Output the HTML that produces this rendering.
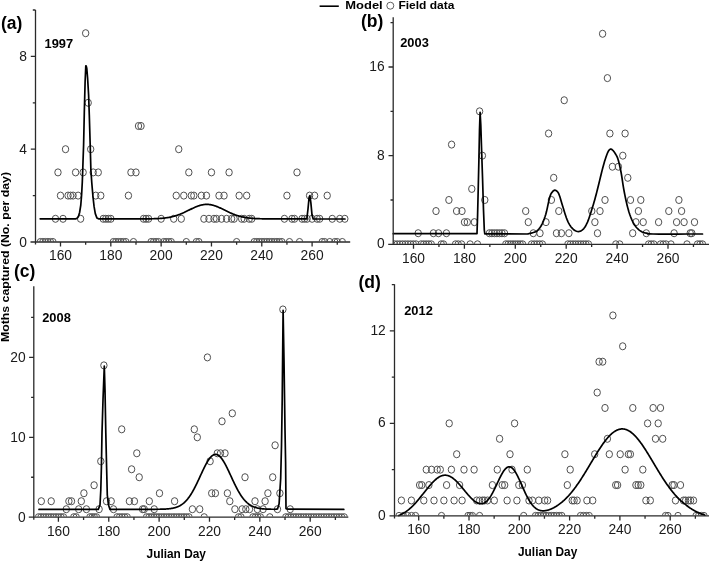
<!DOCTYPE html><html><head><meta charset="utf-8"><style>
html,body{margin:0;padding:0;background:#fff;width:709px;height:561px;overflow:hidden}
svg{display:block;will-change:transform}
text{font-family:"Liberation Sans",sans-serif}
.b{font-weight:bold}
</style></head><body>
<svg width="709" height="561" viewBox="0 0 709 561">
<rect width="709" height="561" fill="#fff"/>
<defs>
<clipPath id="cla"><rect x="35.5" y="0" width="319.7" height="241.4"/></clipPath>
<clipPath id="clb"><rect x="393.2" y="0" width="321.3" height="243.7"/></clipPath>
<clipPath id="clc"><rect x="33.8" y="0" width="319.5" height="516.6"/></clipPath>
<clipPath id="cld"><rect x="394.5" y="0" width="320" height="515.3"/></clipPath>
</defs>
<g clip-path="url(#cla)" fill="none" stroke="#505050" stroke-width="1">
<ellipse cx="40.37" cy="242" rx="3.2" ry="3.55"/>
<ellipse cx="42.89" cy="242" rx="3.2" ry="3.55"/>
<ellipse cx="45.4" cy="242" rx="3.2" ry="3.55"/>
<ellipse cx="47.92" cy="242" rx="3.2" ry="3.55"/>
<ellipse cx="50.44" cy="242" rx="3.2" ry="3.55"/>
<ellipse cx="52.95" cy="242" rx="3.2" ry="3.55"/>
<ellipse cx="55.47" cy="218.8" rx="3.2" ry="3.55"/>
<ellipse cx="57.98" cy="172.4" rx="3.2" ry="3.55"/>
<ellipse cx="60.5" cy="195.6" rx="3.2" ry="3.55"/>
<ellipse cx="63.02" cy="218.8" rx="3.2" ry="3.55"/>
<ellipse cx="65.53" cy="149.2" rx="3.2" ry="3.55"/>
<ellipse cx="68.05" cy="195.6" rx="3.2" ry="3.55"/>
<ellipse cx="70.56" cy="195.6" rx="3.2" ry="3.55"/>
<ellipse cx="73.08" cy="195.6" rx="3.2" ry="3.55"/>
<ellipse cx="75.6" cy="172.4" rx="3.2" ry="3.55"/>
<ellipse cx="78.11" cy="195.6" rx="3.2" ry="3.55"/>
<ellipse cx="80.63" cy="218.8" rx="3.2" ry="3.55"/>
<ellipse cx="83.14" cy="172.4" rx="3.2" ry="3.55"/>
<ellipse cx="85.66" cy="33.2" rx="3.2" ry="3.55"/>
<ellipse cx="88.18" cy="102.8" rx="3.2" ry="3.55"/>
<ellipse cx="90.69" cy="149.2" rx="3.2" ry="3.55"/>
<ellipse cx="93.21" cy="172.4" rx="3.2" ry="3.55"/>
<ellipse cx="95.72" cy="195.6" rx="3.2" ry="3.55"/>
<ellipse cx="98.24" cy="172.4" rx="3.2" ry="3.55"/>
<ellipse cx="100.76" cy="195.6" rx="3.2" ry="3.55"/>
<ellipse cx="103.27" cy="218.8" rx="3.2" ry="3.55"/>
<ellipse cx="105.79" cy="218.8" rx="3.2" ry="3.55"/>
<ellipse cx="108.3" cy="218.8" rx="3.2" ry="3.55"/>
<ellipse cx="110.82" cy="218.8" rx="3.2" ry="3.55"/>
<ellipse cx="113.34" cy="242" rx="3.2" ry="3.55"/>
<ellipse cx="115.85" cy="242" rx="3.2" ry="3.55"/>
<ellipse cx="118.37" cy="242" rx="3.2" ry="3.55"/>
<ellipse cx="120.88" cy="242" rx="3.2" ry="3.55"/>
<ellipse cx="123.4" cy="242" rx="3.2" ry="3.55"/>
<ellipse cx="125.92" cy="242" rx="3.2" ry="3.55"/>
<ellipse cx="128.43" cy="195.6" rx="3.2" ry="3.55"/>
<ellipse cx="130.95" cy="172.4" rx="3.2" ry="3.55"/>
<ellipse cx="133.46" cy="242" rx="3.2" ry="3.55"/>
<ellipse cx="135.98" cy="172.4" rx="3.2" ry="3.55"/>
<ellipse cx="138.5" cy="126" rx="3.2" ry="3.55"/>
<ellipse cx="141.01" cy="126" rx="3.2" ry="3.55"/>
<ellipse cx="143.53" cy="218.8" rx="3.2" ry="3.55"/>
<ellipse cx="146.04" cy="218.8" rx="3.2" ry="3.55"/>
<ellipse cx="148.56" cy="218.8" rx="3.2" ry="3.55"/>
<ellipse cx="151.08" cy="242" rx="3.2" ry="3.55"/>
<ellipse cx="153.59" cy="242" rx="3.2" ry="3.55"/>
<ellipse cx="156.11" cy="242" rx="3.2" ry="3.55"/>
<ellipse cx="158.62" cy="242" rx="3.2" ry="3.55"/>
<ellipse cx="161.14" cy="218.8" rx="3.2" ry="3.55"/>
<ellipse cx="163.66" cy="242" rx="3.2" ry="3.55"/>
<ellipse cx="166.17" cy="242" rx="3.2" ry="3.55"/>
<ellipse cx="168.69" cy="242" rx="3.2" ry="3.55"/>
<ellipse cx="171.2" cy="242" rx="3.2" ry="3.55"/>
<ellipse cx="173.72" cy="218.8" rx="3.2" ry="3.55"/>
<ellipse cx="176.24" cy="195.6" rx="3.2" ry="3.55"/>
<ellipse cx="178.75" cy="149.2" rx="3.2" ry="3.55"/>
<ellipse cx="181.27" cy="218.8" rx="3.2" ry="3.55"/>
<ellipse cx="183.78" cy="195.6" rx="3.2" ry="3.55"/>
<ellipse cx="186.3" cy="242" rx="3.2" ry="3.55"/>
<ellipse cx="188.82" cy="172.4" rx="3.2" ry="3.55"/>
<ellipse cx="191.33" cy="195.6" rx="3.2" ry="3.55"/>
<ellipse cx="193.85" cy="195.6" rx="3.2" ry="3.55"/>
<ellipse cx="196.36" cy="242" rx="3.2" ry="3.55"/>
<ellipse cx="198.88" cy="242" rx="3.2" ry="3.55"/>
<ellipse cx="201.4" cy="195.6" rx="3.2" ry="3.55"/>
<ellipse cx="203.91" cy="218.8" rx="3.2" ry="3.55"/>
<ellipse cx="206.43" cy="195.6" rx="3.2" ry="3.55"/>
<ellipse cx="208.94" cy="218.8" rx="3.2" ry="3.55"/>
<ellipse cx="211.46" cy="172.4" rx="3.2" ry="3.55"/>
<ellipse cx="213.98" cy="218.8" rx="3.2" ry="3.55"/>
<ellipse cx="216.49" cy="218.8" rx="3.2" ry="3.55"/>
<ellipse cx="219.01" cy="195.6" rx="3.2" ry="3.55"/>
<ellipse cx="221.52" cy="218.8" rx="3.2" ry="3.55"/>
<ellipse cx="224.04" cy="195.6" rx="3.2" ry="3.55"/>
<ellipse cx="226.56" cy="218.8" rx="3.2" ry="3.55"/>
<ellipse cx="229.07" cy="172.4" rx="3.2" ry="3.55"/>
<ellipse cx="231.59" cy="218.8" rx="3.2" ry="3.55"/>
<ellipse cx="234.1" cy="218.8" rx="3.2" ry="3.55"/>
<ellipse cx="236.62" cy="242" rx="3.2" ry="3.55"/>
<ellipse cx="239.14" cy="195.6" rx="3.2" ry="3.55"/>
<ellipse cx="241.65" cy="218.8" rx="3.2" ry="3.55"/>
<ellipse cx="244.17" cy="218.8" rx="3.2" ry="3.55"/>
<ellipse cx="246.68" cy="195.6" rx="3.2" ry="3.55"/>
<ellipse cx="249.2" cy="218.8" rx="3.2" ry="3.55"/>
<ellipse cx="251.72" cy="218.8" rx="3.2" ry="3.55"/>
<ellipse cx="254.23" cy="242" rx="3.2" ry="3.55"/>
<ellipse cx="256.75" cy="242" rx="3.2" ry="3.55"/>
<ellipse cx="259.26" cy="242" rx="3.2" ry="3.55"/>
<ellipse cx="261.78" cy="242" rx="3.2" ry="3.55"/>
<ellipse cx="264.3" cy="242" rx="3.2" ry="3.55"/>
<ellipse cx="266.81" cy="242" rx="3.2" ry="3.55"/>
<ellipse cx="269.33" cy="242" rx="3.2" ry="3.55"/>
<ellipse cx="271.84" cy="242" rx="3.2" ry="3.55"/>
<ellipse cx="274.36" cy="242" rx="3.2" ry="3.55"/>
<ellipse cx="276.88" cy="242" rx="3.2" ry="3.55"/>
<ellipse cx="279.39" cy="242" rx="3.2" ry="3.55"/>
<ellipse cx="281.91" cy="242" rx="3.2" ry="3.55"/>
<ellipse cx="284.42" cy="218.8" rx="3.2" ry="3.55"/>
<ellipse cx="286.94" cy="195.6" rx="3.2" ry="3.55"/>
<ellipse cx="289.46" cy="242" rx="3.2" ry="3.55"/>
<ellipse cx="291.97" cy="218.8" rx="3.2" ry="3.55"/>
<ellipse cx="294.49" cy="218.8" rx="3.2" ry="3.55"/>
<ellipse cx="297" cy="172.4" rx="3.2" ry="3.55"/>
<ellipse cx="299.52" cy="242" rx="3.2" ry="3.55"/>
<ellipse cx="302.04" cy="218.8" rx="3.2" ry="3.55"/>
<ellipse cx="304.55" cy="218.8" rx="3.2" ry="3.55"/>
<ellipse cx="307.07" cy="218.8" rx="3.2" ry="3.55"/>
<ellipse cx="309.58" cy="195.6" rx="3.2" ry="3.55"/>
<ellipse cx="312.1" cy="218.8" rx="3.2" ry="3.55"/>
<ellipse cx="314.62" cy="195.6" rx="3.2" ry="3.55"/>
<ellipse cx="317.13" cy="218.8" rx="3.2" ry="3.55"/>
<ellipse cx="319.65" cy="218.8" rx="3.2" ry="3.55"/>
<ellipse cx="322.16" cy="242" rx="3.2" ry="3.55"/>
<ellipse cx="324.68" cy="242" rx="3.2" ry="3.55"/>
<ellipse cx="327.2" cy="195.6" rx="3.2" ry="3.55"/>
<ellipse cx="329.71" cy="242" rx="3.2" ry="3.55"/>
<ellipse cx="332.23" cy="218.8" rx="3.2" ry="3.55"/>
<ellipse cx="334.74" cy="242" rx="3.2" ry="3.55"/>
<ellipse cx="337.26" cy="242" rx="3.2" ry="3.55"/>
<ellipse cx="339.78" cy="218.8" rx="3.2" ry="3.55"/>
<ellipse cx="342.29" cy="242" rx="3.2" ry="3.55"/>
<ellipse cx="344.81" cy="218.8" rx="3.2" ry="3.55"/>
</g>
<g clip-path="url(#clb)" fill="none" stroke="#505050" stroke-width="1">
<ellipse cx="394.5" cy="244.3" rx="3.2" ry="3.55"/>
<ellipse cx="397.19" cy="244.3" rx="3.2" ry="3.55"/>
<ellipse cx="399.88" cy="244.3" rx="3.2" ry="3.55"/>
<ellipse cx="402.56" cy="244.3" rx="3.2" ry="3.55"/>
<ellipse cx="405.25" cy="244.3" rx="3.2" ry="3.55"/>
<ellipse cx="407.94" cy="244.3" rx="3.2" ry="3.55"/>
<ellipse cx="410.62" cy="244.3" rx="3.2" ry="3.55"/>
<ellipse cx="413.31" cy="244.3" rx="3.2" ry="3.55"/>
<ellipse cx="416" cy="244.3" rx="3.2" ry="3.55"/>
<ellipse cx="421.1" cy="244.3" rx="3.2" ry="3.55"/>
<ellipse cx="423.65" cy="244.3" rx="3.2" ry="3.55"/>
<ellipse cx="426.2" cy="244.3" rx="3.2" ry="3.55"/>
<ellipse cx="428.75" cy="244.3" rx="3.2" ry="3.55"/>
<ellipse cx="431.3" cy="244.3" rx="3.2" ry="3.55"/>
<ellipse cx="441.2" cy="244.3" rx="3.2" ry="3.55"/>
<ellipse cx="443.5" cy="244.3" rx="3.2" ry="3.55"/>
<ellipse cx="455.5" cy="244.3" rx="3.2" ry="3.55"/>
<ellipse cx="458.2" cy="244.3" rx="3.2" ry="3.55"/>
<ellipse cx="461.6" cy="244.3" rx="3.2" ry="3.55"/>
<ellipse cx="470.1" cy="244.3" rx="3.2" ry="3.55"/>
<ellipse cx="477.5" cy="244.3" rx="3.2" ry="3.55"/>
<ellipse cx="505.8" cy="244.3" rx="3.2" ry="3.55"/>
<ellipse cx="508.2" cy="244.3" rx="3.2" ry="3.55"/>
<ellipse cx="510.6" cy="244.3" rx="3.2" ry="3.55"/>
<ellipse cx="513" cy="244.3" rx="3.2" ry="3.55"/>
<ellipse cx="515.4" cy="244.3" rx="3.2" ry="3.55"/>
<ellipse cx="517.8" cy="244.3" rx="3.2" ry="3.55"/>
<ellipse cx="520.2" cy="244.3" rx="3.2" ry="3.55"/>
<ellipse cx="522.6" cy="244.3" rx="3.2" ry="3.55"/>
<ellipse cx="531.5" cy="244.3" rx="3.2" ry="3.55"/>
<ellipse cx="534.23" cy="244.3" rx="3.2" ry="3.55"/>
<ellipse cx="536.95" cy="244.3" rx="3.2" ry="3.55"/>
<ellipse cx="539.67" cy="244.3" rx="3.2" ry="3.55"/>
<ellipse cx="542.4" cy="244.3" rx="3.2" ry="3.55"/>
<ellipse cx="567.9" cy="244.3" rx="3.2" ry="3.55"/>
<ellipse cx="570.48" cy="244.3" rx="3.2" ry="3.55"/>
<ellipse cx="573.05" cy="244.3" rx="3.2" ry="3.55"/>
<ellipse cx="575.62" cy="244.3" rx="3.2" ry="3.55"/>
<ellipse cx="578.2" cy="244.3" rx="3.2" ry="3.55"/>
<ellipse cx="580.77" cy="244.3" rx="3.2" ry="3.55"/>
<ellipse cx="583.35" cy="244.3" rx="3.2" ry="3.55"/>
<ellipse cx="585.92" cy="244.3" rx="3.2" ry="3.55"/>
<ellipse cx="588.5" cy="244.3" rx="3.2" ry="3.55"/>
<ellipse cx="615.8" cy="244.3" rx="3.2" ry="3.55"/>
<ellipse cx="619.7" cy="244.3" rx="3.2" ry="3.55"/>
<ellipse cx="648.6" cy="244.3" rx="3.2" ry="3.55"/>
<ellipse cx="651.2" cy="244.3" rx="3.2" ry="3.55"/>
<ellipse cx="653.8" cy="244.3" rx="3.2" ry="3.55"/>
<ellipse cx="660.5" cy="244.3" rx="3.2" ry="3.55"/>
<ellipse cx="663.25" cy="244.3" rx="3.2" ry="3.55"/>
<ellipse cx="666" cy="244.3" rx="3.2" ry="3.55"/>
<ellipse cx="671" cy="244.3" rx="3.2" ry="3.55"/>
<ellipse cx="687" cy="244.3" rx="3.2" ry="3.55"/>
<ellipse cx="697.5" cy="244.3" rx="3.2" ry="3.55"/>
<ellipse cx="700" cy="244.3" rx="3.2" ry="3.55"/>
<ellipse cx="702.5" cy="244.3" rx="3.2" ry="3.55"/>
<ellipse cx="418.2" cy="233.22" rx="3.2" ry="3.55"/>
<ellipse cx="433.4" cy="233.22" rx="3.2" ry="3.55"/>
<ellipse cx="438.5" cy="233.22" rx="3.2" ry="3.55"/>
<ellipse cx="446.4" cy="233.22" rx="3.2" ry="3.55"/>
<ellipse cx="489.4" cy="233.22" rx="3.2" ry="3.55"/>
<ellipse cx="491.92" cy="233.22" rx="3.2" ry="3.55"/>
<ellipse cx="494.43" cy="233.22" rx="3.2" ry="3.55"/>
<ellipse cx="496.95" cy="233.22" rx="3.2" ry="3.55"/>
<ellipse cx="499.47" cy="233.22" rx="3.2" ry="3.55"/>
<ellipse cx="501.98" cy="233.22" rx="3.2" ry="3.55"/>
<ellipse cx="504.5" cy="233.22" rx="3.2" ry="3.55"/>
<ellipse cx="533.3" cy="233.22" rx="3.2" ry="3.55"/>
<ellipse cx="540" cy="233.22" rx="3.2" ry="3.55"/>
<ellipse cx="556.5" cy="233.22" rx="3.2" ry="3.55"/>
<ellipse cx="561.4" cy="233.22" rx="3.2" ry="3.55"/>
<ellipse cx="568.9" cy="233.22" rx="3.2" ry="3.55"/>
<ellipse cx="597.5" cy="233.22" rx="3.2" ry="3.55"/>
<ellipse cx="632.7" cy="233.22" rx="3.2" ry="3.55"/>
<ellipse cx="646.3" cy="233.22" rx="3.2" ry="3.55"/>
<ellipse cx="674.1" cy="233.22" rx="3.2" ry="3.55"/>
<ellipse cx="690.2" cy="233.22" rx="3.2" ry="3.55"/>
<ellipse cx="691.8" cy="233.22" rx="3.2" ry="3.55"/>
<ellipse cx="464.5" cy="222.14" rx="3.2" ry="3.55"/>
<ellipse cx="467.3" cy="222.14" rx="3.2" ry="3.55"/>
<ellipse cx="474.4" cy="222.14" rx="3.2" ry="3.55"/>
<ellipse cx="528.3" cy="222.14" rx="3.2" ry="3.55"/>
<ellipse cx="546" cy="222.14" rx="3.2" ry="3.55"/>
<ellipse cx="594.9" cy="222.14" rx="3.2" ry="3.55"/>
<ellipse cx="635.9" cy="222.14" rx="3.2" ry="3.55"/>
<ellipse cx="643.2" cy="222.14" rx="3.2" ry="3.55"/>
<ellipse cx="658.6" cy="222.14" rx="3.2" ry="3.55"/>
<ellipse cx="676.6" cy="222.14" rx="3.2" ry="3.55"/>
<ellipse cx="684.1" cy="222.14" rx="3.2" ry="3.55"/>
<ellipse cx="694.5" cy="222.14" rx="3.2" ry="3.55"/>
<ellipse cx="436" cy="211.06" rx="3.2" ry="3.55"/>
<ellipse cx="456.6" cy="211.06" rx="3.2" ry="3.55"/>
<ellipse cx="462" cy="211.06" rx="3.2" ry="3.55"/>
<ellipse cx="525.7" cy="211.06" rx="3.2" ry="3.55"/>
<ellipse cx="558.8" cy="211.06" rx="3.2" ry="3.55"/>
<ellipse cx="591.8" cy="211.06" rx="3.2" ry="3.55"/>
<ellipse cx="600" cy="211.06" rx="3.2" ry="3.55"/>
<ellipse cx="638.4" cy="211.06" rx="3.2" ry="3.55"/>
<ellipse cx="668.8" cy="211.06" rx="3.2" ry="3.55"/>
<ellipse cx="681.6" cy="211.06" rx="3.2" ry="3.55"/>
<ellipse cx="448.9" cy="199.98" rx="3.2" ry="3.55"/>
<ellipse cx="484.8" cy="199.98" rx="3.2" ry="3.55"/>
<ellipse cx="551.4" cy="199.98" rx="3.2" ry="3.55"/>
<ellipse cx="605" cy="199.98" rx="3.2" ry="3.55"/>
<ellipse cx="630.5" cy="199.98" rx="3.2" ry="3.55"/>
<ellipse cx="640.8" cy="199.98" rx="3.2" ry="3.55"/>
<ellipse cx="678.9" cy="199.98" rx="3.2" ry="3.55"/>
<ellipse cx="471.8" cy="188.9" rx="3.2" ry="3.55"/>
<ellipse cx="553.7" cy="177.82" rx="3.2" ry="3.55"/>
<ellipse cx="627.8" cy="177.82" rx="3.2" ry="3.55"/>
<ellipse cx="612.4" cy="166.74" rx="3.2" ry="3.55"/>
<ellipse cx="618.4" cy="166.74" rx="3.2" ry="3.55"/>
<ellipse cx="482.4" cy="155.66" rx="3.2" ry="3.55"/>
<ellipse cx="622.8" cy="155.66" rx="3.2" ry="3.55"/>
<ellipse cx="451.6" cy="144.58" rx="3.2" ry="3.55"/>
<ellipse cx="548.6" cy="133.5" rx="3.2" ry="3.55"/>
<ellipse cx="609.9" cy="133.5" rx="3.2" ry="3.55"/>
<ellipse cx="625.1" cy="133.5" rx="3.2" ry="3.55"/>
<ellipse cx="479.6" cy="111.34" rx="3.2" ry="3.55"/>
<ellipse cx="564.2" cy="100.26" rx="3.2" ry="3.55"/>
<ellipse cx="607.4" cy="78.1" rx="3.2" ry="3.55"/>
<ellipse cx="602.6" cy="33.78" rx="3.2" ry="3.55"/>
</g>
<g clip-path="url(#clc)" fill="none" stroke="#505050" stroke-width="1">
<ellipse cx="38.5" cy="517.2" rx="3.2" ry="3.55"/>
<ellipse cx="41" cy="517.2" rx="3.2" ry="3.55"/>
<ellipse cx="43.5" cy="517.2" rx="3.2" ry="3.55"/>
<ellipse cx="46" cy="517.2" rx="3.2" ry="3.55"/>
<ellipse cx="48.5" cy="517.2" rx="3.2" ry="3.55"/>
<ellipse cx="51" cy="517.2" rx="3.2" ry="3.55"/>
<ellipse cx="53.5" cy="517.2" rx="3.2" ry="3.55"/>
<ellipse cx="56" cy="517.2" rx="3.2" ry="3.55"/>
<ellipse cx="58.5" cy="517.2" rx="3.2" ry="3.55"/>
<ellipse cx="61" cy="517.2" rx="3.2" ry="3.55"/>
<ellipse cx="63.5" cy="517.2" rx="3.2" ry="3.55"/>
<ellipse cx="73.8" cy="517.2" rx="3.2" ry="3.55"/>
<ellipse cx="76.2" cy="517.2" rx="3.2" ry="3.55"/>
<ellipse cx="89.9" cy="517.2" rx="3.2" ry="3.55"/>
<ellipse cx="92.1" cy="517.2" rx="3.2" ry="3.55"/>
<ellipse cx="94.3" cy="517.2" rx="3.2" ry="3.55"/>
<ellipse cx="96.5" cy="517.2" rx="3.2" ry="3.55"/>
<ellipse cx="117" cy="517.2" rx="3.2" ry="3.55"/>
<ellipse cx="119.55" cy="517.2" rx="3.2" ry="3.55"/>
<ellipse cx="122.1" cy="517.2" rx="3.2" ry="3.55"/>
<ellipse cx="124.65" cy="517.2" rx="3.2" ry="3.55"/>
<ellipse cx="127.2" cy="517.2" rx="3.2" ry="3.55"/>
<ellipse cx="146.5" cy="517.2" rx="3.2" ry="3.55"/>
<ellipse cx="149" cy="517.2" rx="3.2" ry="3.55"/>
<ellipse cx="151.5" cy="517.2" rx="3.2" ry="3.55"/>
<ellipse cx="154" cy="517.2" rx="3.2" ry="3.55"/>
<ellipse cx="156.5" cy="517.2" rx="3.2" ry="3.55"/>
<ellipse cx="159" cy="517.2" rx="3.2" ry="3.55"/>
<ellipse cx="161.5" cy="517.2" rx="3.2" ry="3.55"/>
<ellipse cx="164" cy="517.2" rx="3.2" ry="3.55"/>
<ellipse cx="166.5" cy="517.2" rx="3.2" ry="3.55"/>
<ellipse cx="169" cy="517.2" rx="3.2" ry="3.55"/>
<ellipse cx="171.5" cy="517.2" rx="3.2" ry="3.55"/>
<ellipse cx="174" cy="517.2" rx="3.2" ry="3.55"/>
<ellipse cx="176.5" cy="517.2" rx="3.2" ry="3.55"/>
<ellipse cx="179" cy="517.2" rx="3.2" ry="3.55"/>
<ellipse cx="181.5" cy="517.2" rx="3.2" ry="3.55"/>
<ellipse cx="184" cy="517.2" rx="3.2" ry="3.55"/>
<ellipse cx="186.5" cy="517.2" rx="3.2" ry="3.55"/>
<ellipse cx="189" cy="517.2" rx="3.2" ry="3.55"/>
<ellipse cx="204.2" cy="517.2" rx="3.2" ry="3.55"/>
<ellipse cx="238.5" cy="517.2" rx="3.2" ry="3.55"/>
<ellipse cx="241" cy="517.2" rx="3.2" ry="3.55"/>
<ellipse cx="252.9" cy="517.2" rx="3.2" ry="3.55"/>
<ellipse cx="255.4" cy="517.2" rx="3.2" ry="3.55"/>
<ellipse cx="257.9" cy="517.2" rx="3.2" ry="3.55"/>
<ellipse cx="260.4" cy="517.2" rx="3.2" ry="3.55"/>
<ellipse cx="269.8" cy="517.2" rx="3.2" ry="3.55"/>
<ellipse cx="285.8" cy="517.2" rx="3.2" ry="3.55"/>
<ellipse cx="288.34" cy="517.2" rx="3.2" ry="3.55"/>
<ellipse cx="290.88" cy="517.2" rx="3.2" ry="3.55"/>
<ellipse cx="293.42" cy="517.2" rx="3.2" ry="3.55"/>
<ellipse cx="295.96" cy="517.2" rx="3.2" ry="3.55"/>
<ellipse cx="298.5" cy="517.2" rx="3.2" ry="3.55"/>
<ellipse cx="301.03" cy="517.2" rx="3.2" ry="3.55"/>
<ellipse cx="303.57" cy="517.2" rx="3.2" ry="3.55"/>
<ellipse cx="306.11" cy="517.2" rx="3.2" ry="3.55"/>
<ellipse cx="308.65" cy="517.2" rx="3.2" ry="3.55"/>
<ellipse cx="311.19" cy="517.2" rx="3.2" ry="3.55"/>
<ellipse cx="313.73" cy="517.2" rx="3.2" ry="3.55"/>
<ellipse cx="316.27" cy="517.2" rx="3.2" ry="3.55"/>
<ellipse cx="318.81" cy="517.2" rx="3.2" ry="3.55"/>
<ellipse cx="321.35" cy="517.2" rx="3.2" ry="3.55"/>
<ellipse cx="323.89" cy="517.2" rx="3.2" ry="3.55"/>
<ellipse cx="326.43" cy="517.2" rx="3.2" ry="3.55"/>
<ellipse cx="328.97" cy="517.2" rx="3.2" ry="3.55"/>
<ellipse cx="331.5" cy="517.2" rx="3.2" ry="3.55"/>
<ellipse cx="334.04" cy="517.2" rx="3.2" ry="3.55"/>
<ellipse cx="336.58" cy="517.2" rx="3.2" ry="3.55"/>
<ellipse cx="339.12" cy="517.2" rx="3.2" ry="3.55"/>
<ellipse cx="341.66" cy="517.2" rx="3.2" ry="3.55"/>
<ellipse cx="344.2" cy="517.2" rx="3.2" ry="3.55"/>
<ellipse cx="66.3" cy="509.21" rx="3.2" ry="3.55"/>
<ellipse cx="78.7" cy="509.21" rx="3.2" ry="3.55"/>
<ellipse cx="86.4" cy="509.21" rx="3.2" ry="3.55"/>
<ellipse cx="99.1" cy="509.21" rx="3.2" ry="3.55"/>
<ellipse cx="113.5" cy="509.21" rx="3.2" ry="3.55"/>
<ellipse cx="142.6" cy="509.21" rx="3.2" ry="3.55"/>
<ellipse cx="144.2" cy="509.21" rx="3.2" ry="3.55"/>
<ellipse cx="154.2" cy="509.21" rx="3.2" ry="3.55"/>
<ellipse cx="192.4" cy="509.21" rx="3.2" ry="3.55"/>
<ellipse cx="199.7" cy="509.21" rx="3.2" ry="3.55"/>
<ellipse cx="234.9" cy="509.21" rx="3.2" ry="3.55"/>
<ellipse cx="242.1" cy="509.21" rx="3.2" ry="3.55"/>
<ellipse cx="245.8" cy="509.21" rx="3.2" ry="3.55"/>
<ellipse cx="249.5" cy="509.21" rx="3.2" ry="3.55"/>
<ellipse cx="257.4" cy="509.21" rx="3.2" ry="3.55"/>
<ellipse cx="263.1" cy="509.21" rx="3.2" ry="3.55"/>
<ellipse cx="277.5" cy="509.21" rx="3.2" ry="3.55"/>
<ellipse cx="290.2" cy="509.21" rx="3.2" ry="3.55"/>
<ellipse cx="41.3" cy="501.22" rx="3.2" ry="3.55"/>
<ellipse cx="51.2" cy="501.22" rx="3.2" ry="3.55"/>
<ellipse cx="68.9" cy="501.22" rx="3.2" ry="3.55"/>
<ellipse cx="71.5" cy="501.22" rx="3.2" ry="3.55"/>
<ellipse cx="81.3" cy="501.22" rx="3.2" ry="3.55"/>
<ellipse cx="106.5" cy="501.22" rx="3.2" ry="3.55"/>
<ellipse cx="111.2" cy="501.22" rx="3.2" ry="3.55"/>
<ellipse cx="129.4" cy="501.22" rx="3.2" ry="3.55"/>
<ellipse cx="134.4" cy="501.22" rx="3.2" ry="3.55"/>
<ellipse cx="149.3" cy="501.22" rx="3.2" ry="3.55"/>
<ellipse cx="174.6" cy="501.22" rx="3.2" ry="3.55"/>
<ellipse cx="229.8" cy="501.22" rx="3.2" ry="3.55"/>
<ellipse cx="255" cy="501.22" rx="3.2" ry="3.55"/>
<ellipse cx="265.1" cy="501.22" rx="3.2" ry="3.55"/>
<ellipse cx="83.9" cy="493.23" rx="3.2" ry="3.55"/>
<ellipse cx="159.5" cy="493.23" rx="3.2" ry="3.55"/>
<ellipse cx="211.7" cy="493.23" rx="3.2" ry="3.55"/>
<ellipse cx="215.4" cy="493.23" rx="3.2" ry="3.55"/>
<ellipse cx="227.4" cy="493.23" rx="3.2" ry="3.55"/>
<ellipse cx="267.9" cy="493.23" rx="3.2" ry="3.55"/>
<ellipse cx="279.9" cy="493.23" rx="3.2" ry="3.55"/>
<ellipse cx="94.1" cy="485.24" rx="3.2" ry="3.55"/>
<ellipse cx="139.2" cy="477.25" rx="3.2" ry="3.55"/>
<ellipse cx="245" cy="477.25" rx="3.2" ry="3.55"/>
<ellipse cx="272.7" cy="477.25" rx="3.2" ry="3.55"/>
<ellipse cx="131.6" cy="469.26" rx="3.2" ry="3.55"/>
<ellipse cx="100.8" cy="461.27" rx="3.2" ry="3.55"/>
<ellipse cx="210.1" cy="461.27" rx="3.2" ry="3.55"/>
<ellipse cx="136.8" cy="453.28" rx="3.2" ry="3.55"/>
<ellipse cx="217.3" cy="453.28" rx="3.2" ry="3.55"/>
<ellipse cx="220.5" cy="453.28" rx="3.2" ry="3.55"/>
<ellipse cx="225" cy="453.28" rx="3.2" ry="3.55"/>
<ellipse cx="275.1" cy="445.29" rx="3.2" ry="3.55"/>
<ellipse cx="197.3" cy="437.3" rx="3.2" ry="3.55"/>
<ellipse cx="121.7" cy="429.31" rx="3.2" ry="3.55"/>
<ellipse cx="194.3" cy="429.31" rx="3.2" ry="3.55"/>
<ellipse cx="222" cy="421.32" rx="3.2" ry="3.55"/>
<ellipse cx="232.3" cy="413.33" rx="3.2" ry="3.55"/>
<ellipse cx="103.9" cy="365.39" rx="3.2" ry="3.55"/>
<ellipse cx="207.4" cy="357.4" rx="3.2" ry="3.55"/>
<ellipse cx="282.9" cy="309.46" rx="3.2" ry="3.55"/>
</g>
<g clip-path="url(#cld)" fill="none" stroke="#505050" stroke-width="1">
<ellipse cx="399" cy="515.9" rx="3.2" ry="3.55"/>
<ellipse cx="403.3" cy="515.9" rx="3.2" ry="3.55"/>
<ellipse cx="407.6" cy="515.9" rx="3.2" ry="3.55"/>
<ellipse cx="411.5" cy="515.9" rx="3.2" ry="3.55"/>
<ellipse cx="415.5" cy="515.9" rx="3.2" ry="3.55"/>
<ellipse cx="441.5" cy="515.9" rx="3.2" ry="3.55"/>
<ellipse cx="468" cy="515.9" rx="3.2" ry="3.55"/>
<ellipse cx="470.2" cy="515.9" rx="3.2" ry="3.55"/>
<ellipse cx="472.4" cy="515.9" rx="3.2" ry="3.55"/>
<ellipse cx="479.6" cy="515.9" rx="3.2" ry="3.55"/>
<ellipse cx="523.7" cy="515.9" rx="3.2" ry="3.55"/>
<ellipse cx="535.5" cy="515.9" rx="3.2" ry="3.55"/>
<ellipse cx="538.13" cy="515.9" rx="3.2" ry="3.55"/>
<ellipse cx="540.76" cy="515.9" rx="3.2" ry="3.55"/>
<ellipse cx="543.39" cy="515.9" rx="3.2" ry="3.55"/>
<ellipse cx="546.02" cy="515.9" rx="3.2" ry="3.55"/>
<ellipse cx="548.65" cy="515.9" rx="3.2" ry="3.55"/>
<ellipse cx="551.28" cy="515.9" rx="3.2" ry="3.55"/>
<ellipse cx="553.91" cy="515.9" rx="3.2" ry="3.55"/>
<ellipse cx="556.54" cy="515.9" rx="3.2" ry="3.55"/>
<ellipse cx="559.17" cy="515.9" rx="3.2" ry="3.55"/>
<ellipse cx="561.8" cy="515.9" rx="3.2" ry="3.55"/>
<ellipse cx="580.5" cy="515.9" rx="3.2" ry="3.55"/>
<ellipse cx="583.4" cy="515.9" rx="3.2" ry="3.55"/>
<ellipse cx="586.3" cy="515.9" rx="3.2" ry="3.55"/>
<ellipse cx="589.2" cy="515.9" rx="3.2" ry="3.55"/>
<ellipse cx="665.5" cy="515.9" rx="3.2" ry="3.55"/>
<ellipse cx="668" cy="515.9" rx="3.2" ry="3.55"/>
<ellipse cx="678" cy="515.9" rx="3.2" ry="3.55"/>
<ellipse cx="696" cy="515.9" rx="3.2" ry="3.55"/>
<ellipse cx="698.67" cy="515.9" rx="3.2" ry="3.55"/>
<ellipse cx="701.33" cy="515.9" rx="3.2" ry="3.55"/>
<ellipse cx="704" cy="515.9" rx="3.2" ry="3.55"/>
<ellipse cx="401.4" cy="500.48" rx="3.2" ry="3.55"/>
<ellipse cx="411.4" cy="500.48" rx="3.2" ry="3.55"/>
<ellipse cx="423.8" cy="500.48" rx="3.2" ry="3.55"/>
<ellipse cx="434" cy="500.48" rx="3.2" ry="3.55"/>
<ellipse cx="443.9" cy="500.48" rx="3.2" ry="3.55"/>
<ellipse cx="454.1" cy="500.48" rx="3.2" ry="3.55"/>
<ellipse cx="462.1" cy="500.48" rx="3.2" ry="3.55"/>
<ellipse cx="476.7" cy="500.48" rx="3.2" ry="3.55"/>
<ellipse cx="479.6" cy="500.48" rx="3.2" ry="3.55"/>
<ellipse cx="482.5" cy="500.48" rx="3.2" ry="3.55"/>
<ellipse cx="484.5" cy="500.48" rx="3.2" ry="3.55"/>
<ellipse cx="487.5" cy="500.48" rx="3.2" ry="3.55"/>
<ellipse cx="494.3" cy="500.48" rx="3.2" ry="3.55"/>
<ellipse cx="507.1" cy="500.48" rx="3.2" ry="3.55"/>
<ellipse cx="516.9" cy="500.48" rx="3.2" ry="3.55"/>
<ellipse cx="529" cy="500.48" rx="3.2" ry="3.55"/>
<ellipse cx="532.5" cy="500.48" rx="3.2" ry="3.55"/>
<ellipse cx="538.8" cy="500.48" rx="3.2" ry="3.55"/>
<ellipse cx="544.7" cy="500.48" rx="3.2" ry="3.55"/>
<ellipse cx="547.6" cy="500.48" rx="3.2" ry="3.55"/>
<ellipse cx="572.2" cy="500.48" rx="3.2" ry="3.55"/>
<ellipse cx="574.1" cy="500.48" rx="3.2" ry="3.55"/>
<ellipse cx="577.1" cy="500.48" rx="3.2" ry="3.55"/>
<ellipse cx="586.9" cy="500.48" rx="3.2" ry="3.55"/>
<ellipse cx="592.7" cy="500.48" rx="3.2" ry="3.55"/>
<ellipse cx="645.9" cy="500.48" rx="3.2" ry="3.55"/>
<ellipse cx="650.3" cy="500.48" rx="3.2" ry="3.55"/>
<ellipse cx="675.5" cy="500.48" rx="3.2" ry="3.55"/>
<ellipse cx="683.5" cy="500.48" rx="3.2" ry="3.55"/>
<ellipse cx="685.6" cy="500.48" rx="3.2" ry="3.55"/>
<ellipse cx="688.5" cy="500.48" rx="3.2" ry="3.55"/>
<ellipse cx="690.6" cy="500.48" rx="3.2" ry="3.55"/>
<ellipse cx="693.5" cy="500.48" rx="3.2" ry="3.55"/>
<ellipse cx="419.6" cy="485.06" rx="3.2" ry="3.55"/>
<ellipse cx="421.8" cy="485.06" rx="3.2" ry="3.55"/>
<ellipse cx="428.9" cy="485.06" rx="3.2" ry="3.55"/>
<ellipse cx="446.6" cy="485.06" rx="3.2" ry="3.55"/>
<ellipse cx="459.6" cy="485.06" rx="3.2" ry="3.55"/>
<ellipse cx="492.4" cy="485.06" rx="3.2" ry="3.55"/>
<ellipse cx="502.2" cy="485.06" rx="3.2" ry="3.55"/>
<ellipse cx="504.7" cy="485.06" rx="3.2" ry="3.55"/>
<ellipse cx="518.8" cy="485.06" rx="3.2" ry="3.55"/>
<ellipse cx="522.4" cy="485.06" rx="3.2" ry="3.55"/>
<ellipse cx="567.3" cy="485.06" rx="3.2" ry="3.55"/>
<ellipse cx="615.7" cy="485.06" rx="3.2" ry="3.55"/>
<ellipse cx="617.6" cy="485.06" rx="3.2" ry="3.55"/>
<ellipse cx="635.9" cy="485.06" rx="3.2" ry="3.55"/>
<ellipse cx="638.2" cy="485.06" rx="3.2" ry="3.55"/>
<ellipse cx="640.8" cy="485.06" rx="3.2" ry="3.55"/>
<ellipse cx="672.2" cy="485.06" rx="3.2" ry="3.55"/>
<ellipse cx="674" cy="485.06" rx="3.2" ry="3.55"/>
<ellipse cx="680.5" cy="485.06" rx="3.2" ry="3.55"/>
<ellipse cx="426.3" cy="469.64" rx="3.2" ry="3.55"/>
<ellipse cx="431.5" cy="469.64" rx="3.2" ry="3.55"/>
<ellipse cx="437.2" cy="469.64" rx="3.2" ry="3.55"/>
<ellipse cx="440.3" cy="469.64" rx="3.2" ry="3.55"/>
<ellipse cx="451.4" cy="469.64" rx="3.2" ry="3.55"/>
<ellipse cx="464" cy="469.64" rx="3.2" ry="3.55"/>
<ellipse cx="474.1" cy="469.64" rx="3.2" ry="3.55"/>
<ellipse cx="497.3" cy="469.64" rx="3.2" ry="3.55"/>
<ellipse cx="512" cy="469.64" rx="3.2" ry="3.55"/>
<ellipse cx="527.3" cy="469.64" rx="3.2" ry="3.55"/>
<ellipse cx="570.2" cy="469.64" rx="3.2" ry="3.55"/>
<ellipse cx="625.1" cy="469.64" rx="3.2" ry="3.55"/>
<ellipse cx="642.8" cy="469.64" rx="3.2" ry="3.55"/>
<ellipse cx="456.7" cy="454.22" rx="3.2" ry="3.55"/>
<ellipse cx="510" cy="454.22" rx="3.2" ry="3.55"/>
<ellipse cx="564.9" cy="454.22" rx="3.2" ry="3.55"/>
<ellipse cx="594.7" cy="454.22" rx="3.2" ry="3.55"/>
<ellipse cx="609.3" cy="454.22" rx="3.2" ry="3.55"/>
<ellipse cx="620.2" cy="454.22" rx="3.2" ry="3.55"/>
<ellipse cx="628.4" cy="454.22" rx="3.2" ry="3.55"/>
<ellipse cx="630.4" cy="454.22" rx="3.2" ry="3.55"/>
<ellipse cx="499.6" cy="438.8" rx="3.2" ry="3.55"/>
<ellipse cx="607.4" cy="438.8" rx="3.2" ry="3.55"/>
<ellipse cx="655.5" cy="438.8" rx="3.2" ry="3.55"/>
<ellipse cx="662.7" cy="438.8" rx="3.2" ry="3.55"/>
<ellipse cx="449.2" cy="423.38" rx="3.2" ry="3.55"/>
<ellipse cx="514.6" cy="423.38" rx="3.2" ry="3.55"/>
<ellipse cx="647.6" cy="423.38" rx="3.2" ry="3.55"/>
<ellipse cx="658.2" cy="423.38" rx="3.2" ry="3.55"/>
<ellipse cx="605" cy="407.96" rx="3.2" ry="3.55"/>
<ellipse cx="632.8" cy="407.96" rx="3.2" ry="3.55"/>
<ellipse cx="653.1" cy="407.96" rx="3.2" ry="3.55"/>
<ellipse cx="660.5" cy="407.96" rx="3.2" ry="3.55"/>
<ellipse cx="597.2" cy="392.54" rx="3.2" ry="3.55"/>
<ellipse cx="599.1" cy="361.7" rx="3.2" ry="3.55"/>
<ellipse cx="602.7" cy="361.7" rx="3.2" ry="3.55"/>
<ellipse cx="622.7" cy="346.28" rx="3.2" ry="3.55"/>
<ellipse cx="612.9" cy="315.44" rx="3.2" ry="3.55"/>
</g>
<polyline points="40.2,218.8 76,218.8 77.4,217.9 78.5,216.3 79.6,212.5 80.8,205 81.6,195 82.3,182 83,162 83.6,145 84.3,112.8 85.1,82 85.8,65.8 86.2,66 86.8,68.5 87.6,78 88.6,95 89.3,115 90.2,145 90.9,170 91.8,183 93,197 94.1,206.7 95.3,213.6 96.9,217.9 98.5,218.8 98.89,218.81 99.43,218.83 100.06,218.85 100.74,218.87 101.41,218.89 102,218.9 102.53,218.91 103.04,218.91 103.53,218.91 104.02,218.9 104.51,218.9 105,218.9 105.5,218.9 106,218.9 106.5,218.9 107,218.9 107.5,218.9 108,218.9 108.5,218.9 109,218.9 109.5,218.9 110,218.9 110.5,218.9 111,218.9 111.5,218.9 112,218.9 112.5,218.9 113,218.9 113.5,218.9 114,218.9 114.5,218.9 115,218.9 115.5,218.9 116,218.9 116.5,218.9 117,218.9 117.5,218.9 118,218.9 118.5,218.9 119,218.9 119.5,218.9 120,218.9 120.5,218.9 121,218.9 121.5,218.9 122,218.9 122.5,218.9 123,218.9 123.5,218.9 124,218.9 124.5,218.9 125,218.9 125.5,218.9 126,218.9 126.5,218.9 127,218.9 127.5,218.9 128,218.9 128.5,218.9 129,218.9 129.5,218.9 130,218.9 130.5,218.9 131,218.9 131.5,218.9 132,218.9 132.5,218.9 133,218.9 133.5,218.9 134,218.9 134.5,218.9 135,218.9 135.5,218.9 136,218.89 136.5,218.89 137,218.89 137.5,218.89 138,218.89 138.5,218.89 139,218.89 139.5,218.89 140,218.89 140.5,218.89 141,218.88 141.5,218.88 142,218.88 142.5,218.88 143,218.88 143.5,218.87 144,218.87 144.5,218.87 145,218.86 145.5,218.86 146,218.86 146.5,218.85 147,218.85 147.5,218.84 148,218.84 148.5,218.83 149,218.83 149.5,218.82 150,218.81 150.5,218.8 151,218.79 151.5,218.78 152,218.77 152.5,218.76 153,218.75 153.5,218.74 154,218.72 154.5,218.71 155,218.69 155.5,218.67 156,218.65 156.5,218.63 157,218.61 157.5,218.59 158,218.56 158.5,218.54 159,218.51 159.5,218.48 160,218.44 160.5,218.41 161,218.37 161.5,218.33 162,218.29 162.5,218.24 163,218.2 163.5,218.15 164,218.1 164.5,218.04 165,217.98 165.5,217.92 166,217.85 166.5,217.78 167,217.71 167.5,217.63 168,217.55 168.5,217.47 169,217.38 169.5,217.29 170,217.19 170.5,217.09 171,216.98 171.5,216.87 172,216.75 172.5,216.63 173,216.51 173.5,216.38 174,216.25 174.5,216.11 175,215.96 175.5,215.81 176,215.65 176.5,215.49 177,215.33 177.5,215.16 178,214.98 178.5,214.8 179,214.62 179.5,214.43 180,214.23 180.5,214.03 181,213.83 181.5,213.62 182,213.41 182.5,213.19 183,212.97 183.5,212.74 184,212.52 184.5,212.28 185,212.05 185.5,211.81 186,211.57 186.5,211.33 187,211.09 187.5,210.84 188,210.6 188.5,210.35 189,210.11 189.5,209.86 190,209.61 190.5,209.37 191,209.12 191.5,208.88 192,208.64 192.5,208.4 193,208.16 193.5,207.93 194,207.7 194.5,207.48 195,207.26 195.5,207.05 196,206.84 196.5,206.64 197,206.44 197.5,206.25 198,206.07 198.5,205.9 199,205.73 199.5,205.57 200,205.42 200.5,205.28 201,205.15 201.5,205.03 202,204.92 202.5,204.82 203,204.73 203.5,204.65 204,204.58 204.5,204.52 205,204.47 205.5,204.44 206,204.42 206.5,204.4 207,204.4 207.5,204.41 208,204.43 208.5,204.47 209,204.51 209.5,204.57 210,204.63 210.5,204.71 211,204.8 211.5,204.9 212,205.01 212.5,205.13 213,205.25 213.5,205.39 214,205.54 214.5,205.7 215,205.86 215.5,206.03 216,206.21 216.5,206.4 217,206.59 217.5,206.8 218,207.01 218.5,207.22 219,207.44 219.5,207.66 220,207.88 220.5,208.12 221,208.35 221.5,208.59 222,208.83 222.5,209.07 223,209.32 223.5,209.56 224,209.81 224.5,210.06 225,210.3 225.5,210.55 226,210.79 226.5,211.04 227,211.28 227.5,211.53 228,211.77 228.5,212 229,212.24 229.5,212.47 230,212.7 230.5,212.92 231,213.15 231.5,213.36 232,213.58 232.5,213.79 233,213.99 233.5,214.19 234,214.39 234.5,214.58 235,214.77 235.5,214.95 236,215.12 236.5,215.3 237,215.46 237.5,215.62 238,215.78 238.5,215.93 239,216.08 239.5,216.22 240,216.35 240.5,216.48 241,216.61 241.5,216.73 242,216.85 242.5,216.96 243,217.07 243.5,217.17 244,217.27 244.5,217.36 245,217.45 245.5,217.54 246,217.62 246.5,217.69 247,217.77 247.5,217.84 248,217.9 248.5,217.97 249,218.03 249.5,218.08 250,218.14 250.5,218.19 251,218.24 251.5,218.28 252,218.32 252.5,218.36 253,218.4 253.5,218.44 254,218.47 254.5,218.5 255,218.53 255.5,218.56 256,218.58 256.5,218.61 257,218.63 257.5,218.65 258,218.67 258.5,218.69 259,218.7 259.5,218.72 260,218.73 260.5,218.75 261,218.76 261.5,218.77 262,218.78 262.5,218.79 263,218.8 263.5,218.81 264,218.82 264.5,218.82 265,218.83 265.5,218.84 266,218.84 266.5,218.85 267,218.85 267.5,218.86 268,218.86 268.5,218.86 269,218.87 269.5,218.87 270,218.87 270.5,218.88 271,218.88 271.5,218.88 272,218.88 272.5,218.88 273,218.89 273.5,218.89 274,218.89 274.5,218.89 275,218.89 275.5,218.89 276,218.89 276.5,218.89 277,218.89 277.5,218.89 278,218.9 278.5,218.9 279,218.9 279.5,218.9 280,218.9 280.5,218.9 281,218.9 281.5,218.9 282,218.9 282.5,218.9 283,218.9 283.5,218.9 284,218.9 284.5,218.9 285,218.9 285.5,218.9 286,218.9 286.5,218.9 287,218.9 287.5,218.9 288,218.9 288.5,218.9 289,218.9 289.5,218.9 290,218.9 290.5,218.9 291,218.9 291.5,218.9 292,218.9 292.5,218.9 293,218.9 293.5,218.9 294,218.9 294.5,218.9 295,218.9 295.5,218.9 296,218.9 296.5,218.9 297,218.9 297.5,218.9 298,218.9 298.5,218.9 299,218.9 299.5,218.9 300,218.9 300.49,218.9 300.97,218.9 301.45,218.89 301.94,218.89 302.45,218.89 303,218.9 303.63,218.91 304.35,218.93 305.09,218.95 305.79,218.97 306.38,218.99 306.8,219 308,209 309.1,197.4 309.9,195.6 310.9,203.2 312,214.8 313.2,219 345,219" fill="none" stroke="#000" stroke-width="1.7" stroke-linejoin="round" stroke-linecap="round"/>
<polyline points="393.3,233.7 477,233.7 477.6,215 478.2,190 478.9,160 479.5,130 480.1,112.3 480.8,125 481.6,150 482.6,180 483.5,210 484.3,230 484.8,233.9 527.7,234 527.93,233.94 528.23,233.86 528.6,233.77 529.02,233.66 529.49,233.54 530,233.4 530.58,233.25 531.24,233.09 531.96,232.91 532.68,232.71 533.37,232.51 534,232.3 534.54,232.12 535.03,231.97 535.48,231.81 535.94,231.6 536.44,231.27 537,230.8 537.64,230.21 538.33,229.54 539.06,228.76 539.8,227.85 540.56,226.77 541.3,225.5 542.05,224.03 542.81,222.39 543.58,220.57 544.34,218.6 545.08,216.48 545.8,214.2 546.5,211.58 547.18,208.57 547.85,205.4 548.5,202.31 549.11,199.53 549.7,197.3 550.24,195.65 550.74,194.41 551.22,193.48 551.68,192.76 552.13,192.17 552.6,191.6 553.07,191.07 553.52,190.66 553.97,190.37 554.43,190.21 554.9,190.18 555.4,190.3 555.93,190.51 556.47,190.81 557.03,191.24 557.61,191.87 558.2,192.73 558.8,193.9 559.41,195.44 560.04,197.34 560.68,199.48 561.34,201.75 562.01,204.06 562.7,206.3 563.42,208.56 564.16,210.96 564.91,213.39 565.68,215.75 566.44,217.96 567.2,219.9 567.94,221.58 568.66,223.08 569.38,224.41 570.11,225.61 570.88,226.7 571.7,227.7 572.58,228.63 573.51,229.48 574.48,230.22 575.46,230.82 576.44,231.25 577.4,231.5 578.35,231.55 579.31,231.43 580.27,231.14 581.22,230.7 582.13,230.12 583,229.4 583.81,228.56 584.58,227.58 585.31,226.46 586.03,225.19 586.76,223.74 587.5,222.1 588.28,220.18 589.07,217.98 589.88,215.6 590.66,213.17 591.41,210.79 592.1,208.6 592.73,206.59 593.31,204.67 593.86,202.81 594.38,200.99 594.89,199.16 595.4,197.3 595.89,195.5 596.34,193.79 596.77,192.09 597.23,190.29 597.73,188.29 598.3,186 598.97,183.27 599.73,180.14 600.53,176.81 601.34,173.5 602.11,170.39 602.8,167.7 603.42,165.42 603.99,163.4 604.52,161.58 605.03,159.94 605.52,158.42 606,157 606.46,155.68 606.9,154.5 607.31,153.45 607.71,152.52 608.11,151.71 608.5,151 608.88,150.41 609.25,149.94 609.61,149.59 609.97,149.34 610.33,149.18 610.7,149.1 611.08,149.12 611.45,149.24 611.83,149.46 612.21,149.76 612.6,150.11 613,150.5 613.41,150.94 613.82,151.45 614.24,152.01 614.66,152.63 615.08,153.29 615.5,154 615.91,154.68 616.31,155.33 616.72,156.02 617.13,156.84 617.55,157.87 618,159.2 618.47,160.83 618.97,162.71 619.48,164.8 619.99,167.07 620.5,169.48 621,172 621.49,174.73 621.96,177.72 622.44,180.85 622.91,184.01 623.4,187.1 623.9,190 624.41,192.74 624.94,195.42 625.47,198.02 626.01,200.53 626.55,202.92 627.1,205.2 627.64,207.34 628.18,209.34 628.72,211.24 629.28,213.05 629.87,214.79 630.5,216.5 631.17,218.17 631.88,219.8 632.61,221.36 633.38,222.84 634.17,224.22 635,225.5 635.86,226.67 636.74,227.74 637.66,228.72 638.6,229.6 639.58,230.4 640.6,231.1 641.68,231.69 642.82,232.17 644,232.56 645.18,232.88 646.32,233.15 647.4,233.4 647.89,233.61 647.73,233.75 647.53,233.84 647.93,233.91 649.54,233.95 653,234 659.28,234.03 668.08,234.04 678.1,234.04 688.04,234.02 696.61,234.01 702.5,234" fill="none" stroke="#000" stroke-width="1.7" stroke-linejoin="round" stroke-linecap="round"/>
<polyline points="39,509.4 98.3,509.4 100,505 100.8,490 101.4,467.5 102,432.8 103,400 104.3,366 105,390 105.8,432.8 106.6,467.5 107.3,495 108.5,505 110,509.4 110.33,509.39 110.78,509.37 111.31,509.35 111.89,509.33 112.47,509.31 113,509.3 113.5,509.29 114,509.29 114.5,509.29 115,509.3 115.5,509.3 116,509.3 116.5,509.3 117,509.3 117.5,509.3 118,509.3 118.5,509.3 119,509.3 119.5,509.3 120,509.3 120.5,509.3 121,509.3 121.5,509.3 122,509.3 122.5,509.3 123,509.3 123.5,509.3 124,509.3 124.5,509.3 125,509.3 125.5,509.3 126,509.3 126.5,509.3 127,509.3 127.5,509.3 128,509.3 128.51,509.3 129.04,509.3 129.56,509.3 130.07,509.3 130.56,509.3 131,509.3 131.39,509.3 131.74,509.3 132.06,509.3 132.37,509.3 132.68,509.3 133,509.3 133.33,509.3 133.67,509.3 134,509.3 134.33,509.3 134.67,509.3 135,509.3 135.33,509.3 135.67,509.3 136,509.3 136.33,509.3 136.67,509.3 137,509.3 137.33,509.3 137.67,509.3 138,509.3 138.33,509.3 138.67,509.3 139,509.3 139.33,509.3 139.67,509.3 140,509.3 140.33,509.3 140.67,509.3 141,509.3 141.33,509.3 141.67,509.3 142,509.3 142.33,509.3 142.67,509.3 143,509.3 143.33,509.3 143.67,509.3 144,509.3 144.33,509.3 144.67,509.3 145,509.3 145.33,509.3 145.67,509.3 146,509.3 146.33,509.3 146.67,509.3 147,509.3 147.33,509.3 147.67,509.3 148,509.3 148.33,509.3 148.67,509.3 149,509.3 149.33,509.3 149.67,509.29 150,509.29 150.33,509.29 150.67,509.29 151,509.29 151.33,509.29 151.67,509.29 152,509.29 152.33,509.29 152.67,509.29 153,509.29 153.33,509.29 153.67,509.28 154,509.28 154.33,509.28 154.67,509.28 155,509.28 155.33,509.28 155.67,509.27 156,509.27 156.33,509.27 156.67,509.27 157,509.26 157.33,509.26 157.67,509.26 158,509.25 158.33,509.25 158.67,509.25 159,509.24 159.33,509.24 159.67,509.23 160,509.23 160.33,509.22 160.67,509.21 161,509.21 161.33,509.2 161.67,509.19 162,509.18 162.33,509.17 162.67,509.16 163,509.15 163.33,509.14 163.67,509.13 164,509.11 164.33,509.1 164.67,509.08 165,509.07 165.33,509.05 165.67,509.03 166,509.01 166.33,508.99 166.67,508.97 167,508.95 167.33,508.92 167.67,508.89 168,508.87 168.33,508.84 168.67,508.8 169,508.77 169.33,508.73 169.67,508.69 170,508.65 170.33,508.61 170.67,508.56 171,508.52 171.33,508.46 171.67,508.41 172,508.35 172.33,508.29 172.67,508.23 173,508.16 173.33,508.09 173.67,508.02 174,507.94 174.33,507.86 174.67,507.77 175,507.68 175.33,507.58 175.67,507.48 176,507.37 176.33,507.26 176.67,507.15 177,507.02 177.33,506.89 177.67,506.76 178,506.62 178.33,506.47 178.67,506.32 179,506.16 179.33,505.99 179.67,505.82 180,505.64 180.33,505.45 180.67,505.25 181,505.04 181.33,504.83 181.67,504.61 182,504.38 182.33,504.14 182.67,503.89 183,503.63 183.33,503.36 183.67,503.08 184,502.79 184.33,502.5 184.67,502.19 185,501.87 185.33,501.54 185.67,501.2 186,500.85 186.33,500.49 186.67,500.12 187,499.73 187.33,499.34 187.67,498.93 188,498.51 188.33,498.08 188.67,497.64 189,497.19 189.33,496.72 189.67,496.25 190,495.76 190.33,495.26 190.67,494.75 191,494.23 191.33,493.69 191.67,493.15 192,492.59 192.33,492.02 192.67,491.45 193,490.86 193.33,490.26 193.67,489.65 194,489.03 194.33,488.4 194.67,487.77 195,487.12 195.33,486.47 195.67,485.8 196,485.13 196.33,484.45 196.67,483.77 197,483.08 197.33,482.38 197.67,481.68 198,480.97 198.33,480.26 198.67,479.54 199,478.82 199.33,478.1 199.67,477.38 200,476.65 200.33,475.93 200.67,475.2 201,474.48 201.33,473.76 201.67,473.04 202,472.32 202.33,471.6 202.67,470.89 203,470.19 203.33,469.49 203.67,468.8 204,468.11 204.33,467.44 204.67,466.77 205,466.11 205.33,465.47 205.67,464.83 206,464.21 206.33,463.6 206.67,463 207,462.42 207.33,461.86 207.67,461.31 208,460.77 208.33,460.25 208.67,459.76 209,459.28 209.33,458.82 209.67,458.38 210,457.96 210.33,457.56 210.67,457.18 211,456.83 211.33,456.5 211.67,456.19 212,455.9 212.33,455.64 212.67,455.4 213,455.19 213.33,455 213.67,454.84 214,454.7 214.33,454.59 214.67,454.5 215,454.44 215.33,454.41 215.67,454.4 216,454.42 216.33,454.46 216.67,454.53 217,454.63 217.33,454.75 217.67,454.9 218,455.07 218.33,455.27 218.67,455.49 219,455.74 219.33,456.01 219.67,456.31 220,456.62 220.33,456.97 220.67,457.33 221,457.72 221.33,458.12 221.67,458.55 222,459 222.33,459.47 222.67,459.96 223,460.46 223.33,460.98 223.67,461.52 224,462.08 224.33,462.66 224.67,463.24 225,463.84 225.33,464.45 225.67,465.08 226,465.72 226.33,466.38 226.67,467.04 227,467.71 227.33,468.38 227.67,469.07 228,469.77 228.33,470.47 228.67,471.18 229,471.89 229.33,472.6 229.67,473.32 230,474.04 230.33,474.77 230.67,475.5 231,476.22 231.33,476.94 231.67,477.67 232,478.39 232.33,479.11 232.67,479.83 233,480.54 233.33,481.25 233.67,481.96 234,482.66 234.33,483.36 234.67,484.05 235,484.73 235.33,485.4 235.67,486.07 236,486.73 236.33,487.38 236.67,488.02 237,488.66 237.33,489.28 237.67,489.9 238,490.5 238.33,491.1 238.67,491.68 239,492.25 239.33,492.82 239.67,493.37 240,493.91 240.33,494.44 240.67,494.95 241,495.46 241.33,495.96 241.67,496.44 242,496.91 242.33,497.37 242.67,497.82 243,498.26 243.33,498.68 243.67,499.09 244,499.5 244.33,499.89 244.67,500.27 245,500.63 245.33,500.99 245.67,501.34 246,501.67 246.33,502 246.67,502.31 247,502.62 247.33,502.91 247.67,503.19 248,503.47 248.33,503.73 248.67,503.99 249,504.23 249.33,504.47 249.67,504.7 250,504.92 250.33,505.13 250.67,505.33 251,505.52 251.33,505.71 251.67,505.89 252,506.06 252.33,506.22 252.67,506.38 253,506.53 253.33,506.68 253.67,506.82 254,506.95 254.33,507.07 254.67,507.19 255,507.31 255.33,507.42 255.67,507.52 256,507.62 256.33,507.71 256.67,507.8 257,507.89 257.33,507.97 257.67,508.05 258,508.12 258.33,508.19 258.67,508.25 259,508.32 259.33,508.38 259.67,508.43 260,508.49 260.33,508.54 260.67,508.58 261,508.63 261.33,508.67 261.67,508.71 262,508.75 262.33,508.78 262.67,508.82 263,508.85 263.33,508.88 263.67,508.91 264,508.93 264.33,508.96 264.67,508.98 265,509 265.33,509.02 265.67,509.04 266,509.06 266.33,509.08 266.67,509.09 267,509.11 267.33,509.12 267.67,509.13 268,509.14 268.33,509.16 268.67,509.17 269,509.18 269.33,509.18 269.67,509.19 270,509.2 270.33,509.21 270.67,509.22 271,509.22 271.33,509.23 271.67,509.23 272,509.24 272.33,509.24 272.67,509.25 273,509.25 273.33,509.26 273.65,509.27 273.97,509.28 274.3,509.29 274.64,509.28 275,509.27 275.42,509.24 275.89,509.19 276.38,509.14 276.83,509.08 277.22,509.03 277.5,509 279.1,503.7 280.7,478.1 281.5,446 282.2,400 283.1,310.4 284,360 285,430 285.6,462 286,508.6 288,509.2 343.8,509.4" fill="none" stroke="#000" stroke-width="1.7" stroke-linejoin="round" stroke-linecap="round"/>
<polyline points="398.83,515.54 399.01,515.47 399.22,515.38 399.47,515.28 399.73,515.17 400,515.04 400.29,514.9 400.61,514.75 400.96,514.58 401.31,514.4 401.66,514.23 402,514.05 402.33,513.87 402.67,513.68 403,513.49 403.33,513.3 403.67,513.11 404,512.9 404.33,512.7 404.67,512.49 405,512.27 405.33,512.06 405.67,511.83 406,511.6 406.33,511.37 406.67,511.13 407,510.89 407.33,510.64 407.67,510.39 408,510.13 408.33,509.87 408.67,509.6 409,509.33 409.33,509.05 409.67,508.77 410,508.48 410.33,508.19 410.67,507.89 411,507.59 411.33,507.28 411.67,506.97 412,506.65 412.33,506.33 412.67,506 413,505.66 413.33,505.33 413.67,504.98 414,504.63 414.33,504.28 414.67,503.92 415,503.56 415.33,503.19 415.67,502.82 416,502.45 416.33,502.06 416.67,501.68 417,501.29 417.33,500.9 417.67,500.5 418,500.1 418.33,499.69 418.67,499.28 419,498.86 419.33,498.44 419.67,498.02 420,497.61 420.33,497.2 420.67,496.79 421,496.38 421.33,495.97 421.67,495.56 422,495.15 422.33,494.74 422.67,494.34 423,493.93 423.33,493.52 423.67,493.11 424,492.7 424.33,492.29 424.67,491.88 425,491.46 425.33,491.05 425.67,490.63 426,490.22 426.33,489.81 426.67,489.4 427,488.99 427.33,488.58 427.67,488.17 428,487.76 428.33,487.36 428.67,486.96 429,486.56 429.33,486.16 429.67,485.77 430,485.38 430.33,484.99 430.67,484.61 431,484.23 431.33,483.86 431.67,483.49 432,483.12 432.33,482.77 432.67,482.41 433,482.07 433.33,481.72 433.67,481.39 434,481.06 434.33,480.74 434.67,480.42 435,480.11 435.33,479.81 435.67,479.52 436,479.24 436.33,478.96 436.67,478.69 437,478.43 437.33,478.18 437.67,477.94 438,477.71 438.33,477.48 438.67,477.27 439,477.06 439.33,476.87 439.67,476.68 440,476.51 440.33,476.35 440.67,476.19 441,476.05 441.33,475.92 441.67,475.8 442,475.69 442.33,475.59 442.67,475.5 443,475.42 443.33,475.36 443.67,475.3 444,475.26 444.33,475.23 444.67,475.21 445,475.2 445.33,475.2 445.67,475.22 446,475.24 446.33,475.28 446.67,475.33 447,475.39 447.33,475.46 447.67,475.54 448,475.63 448.33,475.74 448.67,475.85 449,475.98 449.33,476.12 449.67,476.26 450,476.42 450.33,476.59 450.67,476.77 451,476.96 451.33,477.16 451.67,477.36 452,477.58 452.33,477.81 452.67,478.05 453,478.29 453.33,478.55 453.67,478.81 454,479.08 454.33,479.36 454.67,479.65 455,479.95 455.33,480.25 455.67,480.56 456,480.88 456.33,481.2 456.67,481.53 457,481.87 457.33,482.21 457.67,482.56 458,482.92 458.33,483.27 458.67,483.64 459,484.01 459.33,484.38 459.67,484.76 460,485.14 460.33,485.53 460.67,485.91 461,486.31 461.33,486.7 461.67,487.1 462,487.49 462.33,487.89 462.67,488.29 463,488.7 463.33,489.1 463.67,489.51 464,489.91 464.33,490.31 464.67,490.72 465,491.12 465.33,491.53 465.67,491.93 466,492.33 466.33,492.72 466.67,493.12 467,493.51 467.33,493.91 467.67,494.29 468,494.68 468.33,495.06 468.67,495.43 469,495.81 469.33,496.18 469.67,496.54 470,496.9 470.33,497.25 470.67,497.6 471,497.94 471.33,498.28 471.67,498.6 472,498.92 472.33,499.24 472.67,499.54 473,499.84 473.33,500.13 473.67,500.42 474,500.69 474.33,500.95 474.67,501.2 475,501.45 475.33,501.68 475.67,501.91 476,502.12 476.33,502.32 476.67,502.51 477,502.69 477.33,502.85 477.67,503.01 478,503.14 478.33,503.27 478.67,503.38 479,503.48 479.33,503.57 479.67,503.64 480,503.69 480.33,503.73 480.67,503.75 481,503.76 481.33,503.75 481.67,503.73 482,503.69 482.33,503.63 482.67,503.55 483,503.46 483.33,503.35 483.67,503.22 484,503.07 484.33,502.9 484.67,502.72 485,502.52 485.33,502.29 485.67,502.05 486,501.79 486.33,501.51 486.67,501.21 487,500.89 487.33,500.56 487.67,500.2 488,499.83 488.33,499.43 488.67,499.02 489,498.59 489.33,498.14 489.67,497.67 490,497.19 490.33,496.68 490.67,496.16 491,495.63 491.33,495.07 491.67,494.5 492,493.92 492.33,493.33 492.67,492.72 493,492.09 493.33,491.45 493.67,490.8 494,490.15 494.33,489.48 494.67,488.8 495,488.11 495.33,487.42 495.67,486.72 496,486.02 496.33,485.31 496.67,484.6 497,483.88 497.33,483.17 497.67,482.45 498,481.74 498.33,481.04 498.67,480.33 499,479.63 499.33,478.93 499.67,478.24 500,477.57 500.33,476.91 500.67,476.25 501,475.61 501.33,474.97 501.67,474.36 502,473.77 502.33,473.19 502.67,472.63 503,472.08 503.33,471.56 503.67,471.06 504,470.59 504.33,470.14 504.67,469.72 505,469.32 505.33,468.94 505.67,468.59 506,468.28 506.33,467.99 506.67,467.74 507,467.51 507.33,467.31 507.67,467.14 508,467.01 508.33,466.91 508.67,466.84 509,466.8 509.33,466.8 509.67,466.82 510,466.88 510.33,466.97 510.67,467.1 511,467.26 511.33,467.45 511.67,467.66 512,467.91 512.33,468.19 512.67,468.51 513,468.85 513.33,469.22 513.67,469.62 514,470.04 514.33,470.48 514.67,470.96 515,471.46 515.33,471.99 515.67,472.54 516,473.1 516.33,473.68 516.67,474.29 517,474.92 517.33,475.57 517.67,476.23 518,476.89 518.33,477.58 518.67,478.28 519,478.99 519.33,479.71 519.67,480.44 520,481.17 520.33,481.91 520.67,482.66 521,483.42 521.33,484.17 521.67,484.93 522,485.68 522.33,486.43 522.67,487.19 523,487.94 523.33,488.69 523.67,489.44 524,490.18 524.33,490.9 524.67,491.63 525,492.35 525.33,493.06 525.67,493.76 526,494.44 526.33,495.12 526.67,495.78 527,496.44 527.33,497.08 527.67,497.71 528,498.32 528.33,498.92 528.67,499.5 529,500.08 529.33,500.63 529.67,501.17 530,501.7 530.33,502.21 530.67,502.7 531,503.18 531.33,503.64 531.67,504.09 532,504.52 532.33,504.93 532.67,505.33 533,505.71 533.33,506.08 533.67,506.43 534,506.77 534.33,507.09 534.67,507.39 535,507.68 535.33,507.96 535.67,508.22 536,508.46 536.33,508.7 536.67,508.91 537,509.12 537.33,509.31 537.67,509.49 538,509.65 538.33,509.81 538.67,509.95 539,510.08 539.33,510.2 539.67,510.3 540,510.4 540.33,510.49 540.67,510.56 541,510.62 541.33,510.68 541.67,510.72 542,510.76 542.33,510.79 542.67,510.81 543,510.82 543.33,510.82 543.67,510.81 544,510.8 544.33,510.78 544.67,510.75 545,510.71 545.33,510.67 545.67,510.62 546,510.56 546.33,510.5 546.67,510.43 547,510.36 547.33,510.27 547.67,510.19 548,510.1 548.33,510 548.67,509.9 549,509.79 549.33,509.67 549.67,509.55 550,509.43 550.33,509.3 550.67,509.17 551,509.03 551.33,508.89 551.67,508.74 552,508.59 552.33,508.44 552.67,508.28 553,508.11 553.33,507.94 553.67,507.77 554,507.59 554.33,507.41 554.67,507.22 555,507.03 555.33,506.84 555.67,506.64 556,506.44 556.33,506.23 556.67,506.02 557,505.8 557.33,505.58 557.67,505.36 558,505.13 558.33,504.9 558.67,504.66 559,504.42 559.33,504.18 559.67,503.93 560,503.68 560.33,503.42 560.67,503.16 561,502.9 561.33,502.63 561.67,502.35 562,502.07 562.33,501.79 562.67,501.5 563,501.21 563.33,500.92 563.67,500.62 564,500.31 564.33,500.01 564.67,499.69 565,499.38 565.33,499.05 565.67,498.73 566,498.4 566.33,498.06 566.67,497.72 567,497.38 567.33,497.03 567.67,496.68 568,496.33 568.33,495.96 568.67,495.6 569,495.23 569.33,494.86 569.67,494.48 570,494.09 570.33,493.71 570.67,493.32 571,492.92 571.33,492.52 571.67,492.12 572,491.71 572.33,491.29 572.67,490.88 573,490.45 573.33,490.03 573.67,489.6 574,489.17 574.33,488.73 574.67,488.29 575,487.84 575.33,487.39 575.67,486.94 576,486.48 576.33,486.02 576.67,485.55 577,485.08 577.33,484.61 577.67,484.13 578,483.65 578.33,483.17 578.67,482.68 579,482.19 579.33,481.69 579.67,481.2 580,480.7 580.33,480.19 580.67,479.68 581,479.17 581.33,478.66 581.67,478.14 582,477.62 582.33,477.1 582.67,476.58 583,476.05 583.33,475.52 583.67,474.99 584,474.45 584.33,473.92 584.67,473.38 585,472.84 585.33,472.29 585.67,471.75 586,471.2 586.33,470.65 586.67,470.1 587,469.55 587.33,469 587.67,468.45 588,467.89 588.33,467.34 588.67,466.78 589,466.22 589.33,465.66 589.67,465.1 590,464.54 590.33,463.98 590.67,463.42 591,462.86 591.33,462.3 591.67,461.74 592,461.19 592.33,460.63 592.67,460.07 593,459.51 593.33,458.95 593.67,458.4 594,457.84 594.33,457.29 594.67,456.74 595,456.19 595.33,455.64 595.67,455.09 596,454.55 596.33,454 596.67,453.46 597,452.92 597.33,452.39 597.67,451.85 598,451.32 598.33,450.8 598.67,450.27 599,449.75 599.33,449.23 599.67,448.72 600,448.21 600.33,447.7 600.67,447.2 601,446.7 601.33,446.21 601.67,445.72 602,445.23 602.33,444.75 602.67,444.27 603,443.8 603.33,443.33 603.67,442.87 604,442.42 604.33,441.97 604.67,441.52 605,441.09 605.33,440.65 605.67,440.23 606,439.81 606.33,439.39 606.67,438.98 607,438.58 607.33,438.19 607.67,437.8 608,437.42 608.33,437.04 608.67,436.68 609,436.32 609.33,435.96 609.67,435.62 610,435.28 610.33,434.95 610.67,434.63 611,434.32 611.33,434.01 611.67,433.71 612,433.43 612.33,433.14 612.67,432.87 613,432.61 613.33,432.35 613.67,432.1 614,431.87 614.33,431.64 614.67,431.42 615,431.21 615.33,431 615.67,430.81 616,430.63 616.33,430.45 616.67,430.28 617,430.13 617.33,429.98 617.67,429.84 618,429.72 618.33,429.6 618.67,429.49 619,429.39 619.33,429.3 619.67,429.22 620,429.15 620.33,429.09 620.67,429.04 621,429 621.33,428.97 621.67,428.94 622,428.93 622.33,428.93 622.67,428.94 623,428.96 623.33,428.98 623.67,429.02 624,429.07 624.33,429.12 624.67,429.19 625,429.27 625.33,429.35 625.67,429.45 626,429.55 626.33,429.67 626.67,429.79 627,429.93 627.33,430.07 627.67,430.22 628,430.39 628.33,430.56 628.67,430.74 629,430.93 629.33,431.13 629.67,431.34 630,431.55 630.33,431.78 630.67,432.01 631,432.26 631.33,432.51 631.67,432.77 632,433.04 632.33,433.32 632.67,433.6 633,433.9 633.33,434.2 633.67,434.51 634,434.83 634.33,435.16 634.67,435.49 635,435.83 635.33,436.18 635.67,436.54 636,436.9 636.33,437.27 636.67,437.65 637,438.04 637.33,438.43 637.67,438.83 638,439.23 638.33,439.65 638.67,440.06 639,440.49 639.33,440.92 639.67,441.36 640,441.8 640.33,442.25 640.67,442.7 641,443.16 641.33,443.62 641.67,444.09 642,444.57 642.33,445.05 642.67,445.53 643,446.02 643.33,446.51 643.67,447.01 644,447.51 644.33,448.02 644.67,448.52 645,449.04 645.33,449.55 645.67,450.07 646,450.6 646.33,451.12 646.67,451.65 647,452.19 647.33,452.72 647.67,453.26 648,453.8 648.33,454.34 648.67,454.88 649,455.43 649.33,455.98 649.67,456.53 650,457.08 650.33,457.63 650.67,458.19 651,458.74 651.33,459.3 651.67,459.86 652,460.41 652.33,460.97 652.67,461.53 653,462.09 653.33,462.65 653.67,463.21 654,463.77 654.33,464.33 654.67,464.89 655,465.45 655.33,466.01 655.67,466.57 656,467.12 656.33,467.68 656.67,468.24 657,468.79 657.33,469.34 657.67,469.9 658,470.45 658.33,470.99 658.67,471.54 659,472.09 659.33,472.63 659.67,473.17 660,473.71 660.33,474.25 660.67,474.79 661,475.32 661.33,475.85 661.67,476.38 662,476.9 662.33,477.43 662.67,477.95 663,478.46 663.33,478.98 663.67,479.49 664,480 664.33,480.5 664.67,481.01 665,481.51 665.33,482 665.67,482.49 666,482.98 666.33,483.47 666.67,483.95 667,484.43 667.33,484.9 667.67,485.37 668,485.84 668.33,486.3 668.67,486.76 669,487.22 669.33,487.67 669.67,488.12 670,488.56 670.33,489 670.67,489.44 671,489.87 671.33,490.29 671.67,490.72 672,491.14 672.33,491.55 672.67,491.96 673,492.37 673.33,492.77 673.67,493.17 674,493.56 674.33,493.95 674.67,494.33 675,494.71 675.33,495.09 675.67,495.46 676,495.83 676.33,496.19 676.67,496.55 677,496.9 677.33,497.25 677.67,497.6 678,497.94 678.33,498.27 678.67,498.61 679,498.93 679.33,499.26 679.67,499.58 680,499.89 680.33,500.2 680.67,500.51 681,500.81 681.33,501.11 681.67,501.4 682,501.69 682.33,501.97 682.67,502.25 683,502.53 683.33,502.8 683.67,503.07 684,503.34 684.33,503.61 684.67,503.88 685,504.15 685.33,504.42 685.67,504.69 686,504.95 686.33,505.22 686.67,505.48 687,505.74 687.33,506 687.67,506.26 688,506.51 688.33,506.76 688.67,507 689,507.24 689.33,507.48 689.67,507.71 690,507.94 690.33,508.17 690.67,508.39 691,508.61 691.33,508.82 691.67,509.03 692,509.24 692.33,509.45 692.67,509.65 693,509.85 693.33,510.05 693.67,510.24 694,510.43 694.33,510.62 694.67,510.8 695,510.98 695.33,511.16 695.67,511.33 696,511.5 696.33,511.67 696.67,511.84 697,512 697.33,512.16 697.67,512.32 698,512.48 698.33,512.63 698.67,512.78 699,512.93 699.33,513.08 699.67,513.22 700,513.36 700.32,513.5 700.63,513.62 700.94,513.75 701.27,513.88 701.61,514.01 702,514.16 702.46,514.33 703.01,514.53 703.58,514.73 704.11,514.92 704.57,515.08 704.9,515.2" fill="none" stroke="#000" stroke-width="1.7" stroke-linejoin="round" stroke-linecap="round"/>
<path d="M35.5 244.6V10M30.5 242H350.2M30.8 149.2H35.5M30.8 56.4H35.5M32.8 195.6H35.5M32.8 102.8H35.5M32.8 10H35.5M60.5 242V246.5M85.66 242V244.8M110.82 242V246.5M135.98 242V244.8M161.14 242V246.5M186.3 242V244.8M211.46 242V246.5M236.62 242V244.8M261.78 242V246.5M286.94 242V244.8M312.1 242V246.5M337.26 242V244.8" fill="none" stroke="#2a2a2a" stroke-width="1.3"/>
<text x="27" y="246.9" font-size="13.8" text-anchor="end" fill="#1a1a1a">0</text>
<text x="27" y="154.1" font-size="13.8" text-anchor="end" fill="#1a1a1a">4</text>
<text x="27" y="61.3" font-size="13.8" text-anchor="end" fill="#1a1a1a">8</text>
<text x="60.5" y="260.4" font-size="13.8" text-anchor="middle" fill="#1a1a1a">160</text>
<text x="110.82" y="260.4" font-size="13.8" text-anchor="middle" fill="#1a1a1a">180</text>
<text x="161.14" y="260.4" font-size="13.8" text-anchor="middle" fill="#1a1a1a">200</text>
<text x="211.46" y="260.4" font-size="13.8" text-anchor="middle" fill="#1a1a1a">220</text>
<text x="261.78" y="260.4" font-size="13.8" text-anchor="middle" fill="#1a1a1a">240</text>
<text x="312.1" y="260.4" font-size="13.8" text-anchor="middle" fill="#1a1a1a">260</text>
<path d="M393.2 244.9V17.2M388.2 244.3H709.5M388.5 155.66H393.2M388.5 67.02H393.2M390.5 199.98H393.2M390.5 111.34H393.2M390.5 22.7H393.2M413.5 244.3V248.8M438.95 244.3V247.1M464.4 244.3V248.8M489.85 244.3V247.1M515.3 244.3V248.8M540.75 244.3V247.1M566.2 244.3V248.8M591.65 244.3V247.1M617.1 244.3V248.8M642.55 244.3V247.1M668 244.3V248.8M693.45 244.3V247.1" fill="none" stroke="#2a2a2a" stroke-width="1.3"/>
<text x="384.6" y="248.4" font-size="13.8" text-anchor="end" fill="#1a1a1a">0</text>
<text x="384.6" y="159.76" font-size="13.8" text-anchor="end" fill="#1a1a1a">8</text>
<text x="384.6" y="71.12" font-size="13.8" text-anchor="end" fill="#1a1a1a">16</text>
<text x="413.5" y="262.7" font-size="13.8" text-anchor="middle" fill="#1a1a1a">160</text>
<text x="464.4" y="262.7" font-size="13.8" text-anchor="middle" fill="#1a1a1a">180</text>
<text x="515.3" y="262.7" font-size="13.8" text-anchor="middle" fill="#1a1a1a">200</text>
<text x="566.2" y="262.7" font-size="13.8" text-anchor="middle" fill="#1a1a1a">220</text>
<text x="617.1" y="262.7" font-size="13.8" text-anchor="middle" fill="#1a1a1a">240</text>
<text x="668" y="262.7" font-size="13.8" text-anchor="middle" fill="#1a1a1a">260</text>
<path d="M33.8 519.8V286.2M28.8 517.2H348.3M29.1 437.3H33.8M29.1 357.4H33.8M31.1 477.25H33.8M31.1 397.35H33.8M31.1 317.45H33.8M58.4 517.2V521.7M83.58 517.2V520M108.76 517.2V521.7M133.94 517.2V520M159.12 517.2V521.7M184.3 517.2V520M209.48 517.2V521.7M234.66 517.2V520M259.84 517.2V521.7M285.02 517.2V520M310.2 517.2V521.7M335.38 517.2V520" fill="none" stroke="#2a2a2a" stroke-width="1.3"/>
<text x="25.6" y="522.1" font-size="13.8" text-anchor="end" fill="#1a1a1a">0</text>
<text x="25.6" y="442.2" font-size="13.8" text-anchor="end" fill="#1a1a1a">10</text>
<text x="25.6" y="362.3" font-size="13.8" text-anchor="end" fill="#1a1a1a">20</text>
<text x="58.4" y="535.6" font-size="13.8" text-anchor="middle" fill="#1a1a1a">160</text>
<text x="108.76" y="535.6" font-size="13.8" text-anchor="middle" fill="#1a1a1a">180</text>
<text x="159.12" y="535.6" font-size="13.8" text-anchor="middle" fill="#1a1a1a">200</text>
<text x="209.48" y="535.6" font-size="13.8" text-anchor="middle" fill="#1a1a1a">220</text>
<text x="259.84" y="535.6" font-size="13.8" text-anchor="middle" fill="#1a1a1a">240</text>
<text x="310.2" y="535.6" font-size="13.8" text-anchor="middle" fill="#1a1a1a">260</text>
<path d="M394.5 518.5V284.2M389.5 515.9H709.5M389.8 423.38H394.5M389.8 330.86H394.5M391.8 469.64H394.5M391.8 377.12H394.5M391.8 284.6H394.5M418.7 515.9V520.4M443.85 515.9V518.7M469 515.9V520.4M494.15 515.9V518.7M519.3 515.9V520.4M544.45 515.9V518.7M569.6 515.9V520.4M594.75 515.9V518.7M619.9 515.9V520.4M645.05 515.9V518.7M670.2 515.9V520.4M695.35 515.9V518.7" fill="none" stroke="#2a2a2a" stroke-width="1.3"/>
<text x="385.8" y="519.6" font-size="13.8" text-anchor="end" fill="#1a1a1a">0</text>
<text x="385.8" y="427.08" font-size="13.8" text-anchor="end" fill="#1a1a1a">6</text>
<text x="385.8" y="334.56" font-size="13.8" text-anchor="end" fill="#1a1a1a">12</text>
<text x="418.7" y="534.3" font-size="13.8" text-anchor="middle" fill="#1a1a1a">160</text>
<text x="469" y="534.3" font-size="13.8" text-anchor="middle" fill="#1a1a1a">180</text>
<text x="519.3" y="534.3" font-size="13.8" text-anchor="middle" fill="#1a1a1a">200</text>
<text x="569.6" y="534.3" font-size="13.8" text-anchor="middle" fill="#1a1a1a">220</text>
<text x="619.9" y="534.3" font-size="13.8" text-anchor="middle" fill="#1a1a1a">240</text>
<text x="670.2" y="534.3" font-size="13.8" text-anchor="middle" fill="#1a1a1a">260</text>
<text x="0.9" y="28.9" font-size="17.5" class="b" fill="#000">(a)</text>
<text x="361" y="26.9" font-size="17.5" class="b" fill="#000">(b)</text>
<text x="13.9" y="277" font-size="17.5" class="b" fill="#000">(c)</text>
<text x="358.4" y="288" font-size="17.5" class="b" fill="#000">(d)</text>
<text x="44.5" y="47.9" font-size="12.6" class="b" fill="#000" textLength="28.6" lengthAdjust="spacingAndGlyphs">1997</text>
<text x="400.2" y="46.7" font-size="12.6" class="b" fill="#000" textLength="28.6" lengthAdjust="spacingAndGlyphs">2003</text>
<text x="42.2" y="322.2" font-size="12.6" class="b" fill="#000" textLength="28.6" lengthAdjust="spacingAndGlyphs">2008</text>
<text x="404.2" y="314.9" font-size="12.6" class="b" fill="#000" textLength="28.6" lengthAdjust="spacingAndGlyphs">2012</text>
<text x="146.6" y="557.6" font-size="12.1" class="b" fill="#000" textLength="59.3" lengthAdjust="spacingAndGlyphs">Julian Day</text>
<text x="518" y="556" font-size="12.1" class="b" fill="#000" textLength="59.3" lengthAdjust="spacingAndGlyphs">Julian Day</text>
<text transform="translate(9.3,342) rotate(-90)" font-size="11.8" class="b" fill="#000" textLength="170" lengthAdjust="spacingAndGlyphs">Moths captured (No. per day)</text>
<path d="M319.6 6.2H338.8" stroke="#000" stroke-width="1.6"/>
<text x="345.3" y="9" font-size="11" class="b" fill="#000" textLength="37.4" lengthAdjust="spacingAndGlyphs">Model</text>
<circle cx="390.3" cy="5.7" r="3.5" fill="none" stroke="#505050" stroke-width="0.9"/>
<text x="398.4" y="9" font-size="11" class="b" fill="#000" textLength="56" lengthAdjust="spacingAndGlyphs">Field data</text>
</svg></body></html>
